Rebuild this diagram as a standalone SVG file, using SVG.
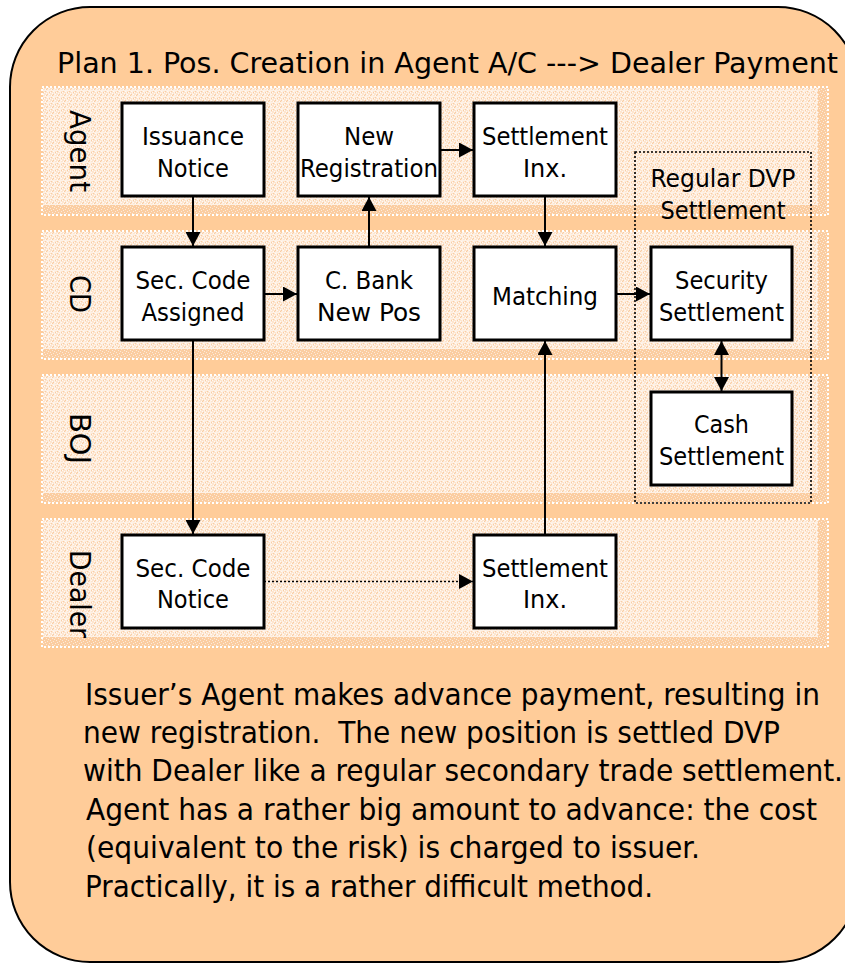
<svg xmlns="http://www.w3.org/2000/svg" width="845" height="963" viewBox="0 0 845 963">
  <style>
    text { font-family: "DejaVu Sans Condensed", "DejaVu Sans", sans-serif; font-stretch: condensed; fill: #000; }
    .title { font-size: 27.5px; }
    .body { font-size: 30px; white-space: pre; }
    .lane-label { font-size: 29px; text-anchor: middle; }
    .box { fill: #fff; stroke: #000; stroke-width: 3; }
    .box-text { font-size: 25px; text-anchor: middle; }
    .group-text { font-size: 24px; text-anchor: middle; }
    .lane-frame { fill: url(#texDark); stroke: #fff; stroke-width: 2; stroke-dasharray: 2 2; }
    .lane-face { fill: url(#texLight); }
    .conn { fill: none; stroke: #000; stroke-width: 2; marker-end: url(#arrow); }
    .dotted { stroke-width: 1.6; stroke-dasharray: 2 2; }
    .both { marker-start: url(#arrow); }
    .group-frame { fill: none; stroke: #000; stroke-width: 1.6; stroke-dasharray: 2 2; }
  </style>
  <defs>
    <!-- speckled light fill of the swim lanes -->
    <pattern id="texLight" width="6" height="6" patternUnits="userSpaceOnUse">
      <rect width="6" height="6" fill="#fde5cf"/>
      <path d="M0 0h6v1H0zM0 1h1v5H0z" fill="#fff" opacity="0.45"/>
      <path d="M2 2h1v1H2zM4 3h1v1H4zM3 5h1v1H3zM5 1h1v1H5zM1 4h1v1H1z" fill="#fff" opacity="0.8"/>
      <path d="M1 2h1v1H1zM4 5h1v1H4zM3 1h1v1H3zM5 4h1v1H5z" fill="#f9cda3"/>
    </pattern>
    <!-- darker speckled fill used for the lane shadow edge -->
    <pattern id="texDark" width="6" height="6" patternUnits="userSpaceOnUse">
      <rect width="6" height="6" fill="#fbcda1"/>
      <path d="M1 1h1v1H1zM4 2h1v1H4zM2 4h1v1H2zM5 5h1v1H5z" fill="#fde8d6"/>
      <path d="M0 3h1v1H0zM3 0h1v1H3z" fill="#fff" opacity="0.6"/>
    </pattern>
    <marker id="arrow" viewBox="0 0 14 15" refX="14" refY="7.5" markerWidth="14" markerHeight="15" markerUnits="userSpaceOnUse" orient="auto-start-reverse">
      <path d="M0 0L14 7.5L0 15z" fill="#000"/>
    </marker>
  </defs>

  <!-- rounded background panel -->
  <rect x="10" y="7" width="848" height="955" rx="80" ry="80" fill="#ffcc99" stroke="#000" stroke-width="2"/>

  <text class="title" x="57" y="73" textLength="781" lengthAdjust="spacingAndGlyphs">Plan 1. Pos. Creation in Agent A/C ---&gt; Dealer Payment</text>

  <!-- swim lanes -->
  <g id="lane-agent">
    <rect class="lane-frame" x="42" y="87" width="786" height="128"/>
    <rect class="lane-face" x="43" y="88" width="775" height="117"/>
    <text class="lane-label" transform="translate(70,151) rotate(90)" textLength="82" lengthAdjust="spacingAndGlyphs">Agent</text>
  </g>
  <g id="lane-cd">
    <rect class="lane-frame" x="42" y="231" width="786" height="128"/>
    <rect class="lane-face" x="43" y="232" width="775" height="117"/>
    <text class="lane-label" transform="translate(70,294) rotate(90)" textLength="38" lengthAdjust="spacingAndGlyphs">CD</text>
  </g>
  <g id="lane-boj">
    <rect class="lane-frame" x="42" y="375" width="786" height="128"/>
    <rect class="lane-face" x="43" y="376" width="775" height="117"/>
    <text class="lane-label" transform="translate(70,438.5) rotate(90)" textLength="51" lengthAdjust="spacingAndGlyphs">BOJ</text>
  </g>
  <g id="lane-dealer">
    <rect class="lane-frame" x="42" y="519" width="786" height="128"/>
    <rect class="lane-face" x="43" y="520" width="775" height="117"/>
    <text class="lane-label" transform="translate(70,594) rotate(90)" textLength="88" lengthAdjust="spacingAndGlyphs">Dealer</text>
  </g>

  <!-- Regular DVP settlement grouping -->
  <g id="regular-dvp">
    <rect class="group-frame" x="635" y="152" width="176" height="351"/>
    <text class="group-text" x="723" y="187" textLength="145" lengthAdjust="spacingAndGlyphs">Regular DVP</text>
    <text class="group-text" x="723" y="219" textLength="125" lengthAdjust="spacingAndGlyphs">Settlement</text>
  </g>

  <!-- connectors -->
  <g id="connectors">
    <path class="conn" d="M193 196V246"/>
    <path class="conn" d="M263 294H297"/>
    <path class="conn" d="M369 247V197"/>
    <path class="conn" d="M440 150H473"/>
    <path class="conn" d="M545 196V246"/>
    <path class="conn" d="M616 294H650"/>
    <path class="conn both" d="M721.5 341V391"/>
    <path class="conn" d="M193 340V534"/>
    <path class="conn dotted" d="M264 581.5H473"/>
    <path class="conn" d="M545 535V341"/>
  </g>

  <!-- nodes -->
  <g id="issuance-notice">
    <rect class="box" x="122" y="103" width="142" height="93"/>
    <text class="box-text" x="193" y="145" textLength="102" lengthAdjust="spacingAndGlyphs">Issuance</text>
    <text class="box-text" x="193" y="177" textLength="72" lengthAdjust="spacingAndGlyphs">Notice</text>
  </g>
  <g id="new-registration">
    <rect class="box" x="298" y="103" width="142" height="93"/>
    <text class="box-text" x="369" y="145" textLength="50" lengthAdjust="spacingAndGlyphs">New</text>
    <text class="box-text" x="369" y="177" textLength="138" lengthAdjust="spacingAndGlyphs">Registration</text>
  </g>
  <g id="agent-settlement-inx">
    <rect class="box" x="474" y="103" width="142" height="93"/>
    <text class="box-text" x="545" y="145" textLength="126" lengthAdjust="spacingAndGlyphs">Settlement</text>
    <text class="box-text" x="545" y="177" textLength="44" lengthAdjust="spacingAndGlyphs">Inx.</text>
  </g>
  <g id="sec-code-assigned">
    <rect class="box" x="122" y="247" width="142" height="93"/>
    <text class="box-text" x="193" y="288.5" textLength="115" lengthAdjust="spacingAndGlyphs">Sec. Code</text>
    <text class="box-text" x="193" y="320.5" textLength="103" lengthAdjust="spacingAndGlyphs">Assigned</text>
  </g>
  <g id="cbank-new-pos">
    <rect class="box" x="298" y="247" width="142" height="93"/>
    <text class="box-text" x="369" y="288.5" textLength="88" lengthAdjust="spacingAndGlyphs">C. Bank</text>
    <text class="box-text" x="369" y="320.5" textLength="104" lengthAdjust="spacingAndGlyphs">New Pos</text>
  </g>
  <g id="matching">
    <rect class="box" x="474" y="247" width="142" height="93"/>
    <text class="box-text" x="545" y="305" textLength="106" lengthAdjust="spacingAndGlyphs">Matching</text>
  </g>
  <g id="security-settlement">
    <rect class="box" x="651" y="247" width="141" height="93"/>
    <text class="box-text" x="721.5" y="288.5" textLength="93" lengthAdjust="spacingAndGlyphs">Security</text>
    <text class="box-text" x="721.5" y="320.5" textLength="125" lengthAdjust="spacingAndGlyphs">Settlement</text>
  </g>
  <g id="cash-settlement">
    <rect class="box" x="651" y="392" width="141" height="93"/>
    <text class="box-text" x="721.5" y="433" textLength="55" lengthAdjust="spacingAndGlyphs">Cash</text>
    <text class="box-text" x="721.5" y="464.5" textLength="125" lengthAdjust="spacingAndGlyphs">Settlement</text>
  </g>
  <g id="sec-code-notice">
    <rect class="box" x="122" y="535" width="142" height="93"/>
    <text class="box-text" x="193" y="576.5" textLength="115" lengthAdjust="spacingAndGlyphs">Sec. Code</text>
    <text class="box-text" x="193" y="608" textLength="72" lengthAdjust="spacingAndGlyphs">Notice</text>
  </g>
  <g id="dealer-settlement-inx">
    <rect class="box" x="474" y="535" width="142" height="93"/>
    <text class="box-text" x="545" y="576.5" textLength="126" lengthAdjust="spacingAndGlyphs">Settlement</text>
    <text class="box-text" x="545" y="608" textLength="44" lengthAdjust="spacingAndGlyphs">Inx.</text>
  </g>

  <!-- explanatory note -->
  <g id="note">
    <text class="body" x="85" y="705" textLength="735" lengthAdjust="spacingAndGlyphs">Issuer’s Agent makes advance payment, resulting in</text>
    <text class="body" x="83" y="743" textLength="697" lengthAdjust="spacingAndGlyphs">new registration.  The new position is settled DVP</text>
    <text class="body" x="83" y="781" textLength="760" lengthAdjust="spacingAndGlyphs">with Dealer like a regular secondary trade settlement.</text>
    <text class="body" x="86" y="820" textLength="731" lengthAdjust="spacingAndGlyphs">Agent has a rather big amount to advance: the cost</text>
    <text class="body" x="86" y="858" textLength="614" lengthAdjust="spacingAndGlyphs">(equivalent to the risk) is charged to issuer.</text>
    <text class="body" x="85" y="897" textLength="568" lengthAdjust="spacingAndGlyphs">Practically, it is a rather difficult method.</text>
  </g>
</svg>
